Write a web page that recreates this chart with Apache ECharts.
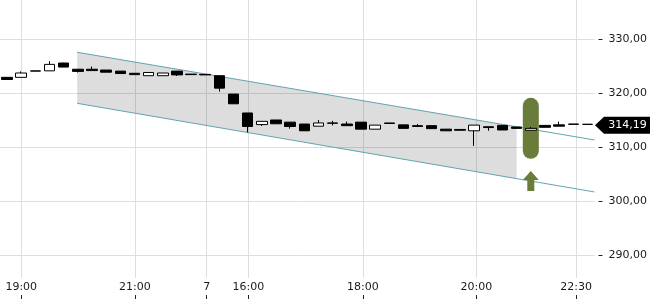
<!DOCTYPE html>
<html><head><meta charset="utf-8">
<script src="https://cdn.jsdelivr.net/npm/echarts@6/dist/echarts.min.js"></script>
<style>html,body{margin:0;padding:0;background:#fff}#c{width:650px;height:300px}</style>
</head><body><div id="c"></div>
<script>
// [open, close, low, high]
const ohlc = [
  [322.9, 322.5, 322.5, 322.95],
  [322.9, 323.7, 322.9, 324.0],
  [324.05, 324.1, 324.05, 324.1],
  [324.1, 325.3, 324.1, 325.9],
  [325.55, 324.8, 324.8, 325.6],
  [324.4, 324.0, 323.8, 324.4],
  [324.4, 324.15, 324.15, 324.9],
  [324.25, 323.85, 323.85, 324.25],
  [324.05, 323.6, 323.6, 324.05],
  [323.65, 323.4, 323.4, 323.65],
  [323.2, 323.8, 323.2, 323.8],
  [323.2, 323.7, 323.2, 323.7],
  [324.05, 323.35, 323.15, 324.05],
  [323.5, 323.4, 323.4, 323.5],
  [323.45, 323.35, 323.35, 323.45],
  [323.2, 320.9, 320.25, 323.2],
  [319.8, 318.0, 318.0, 319.8],
  [316.3, 313.8, 312.7, 316.3],
  [314.15, 314.75, 313.9, 314.8],
  [315.0, 314.3, 314.3, 315.0],
  [314.6, 313.8, 313.4, 314.6],
  [314.25, 313.0, 313.0, 314.25],
  [313.85, 314.45, 313.85, 315.0],
  [314.45, 314.4, 314.0, 314.85],
  [314.25, 313.95, 313.95, 314.7],
  [314.6, 313.3, 313.3, 314.6],
  [313.3, 314.05, 313.3, 314.05],
  [314.45, 314.35, 314.35, 314.45],
  [314.1, 313.45, 313.45, 314.1],
  [313.95, 313.8, 313.8, 314.25],
  [313.95, 313.4, 313.4, 313.95],
  [313.3, 313.0, 313.0, 313.3],
  [313.25, 313.1, 313.1, 313.25],
  [313.0, 314.05, 310.2, 314.05],
  [313.75, 313.6, 313.0, 313.75],
  [314.0, 313.15, 313.15, 314.0],
  [313.7, 313.45, 313.45, 313.7],
  [313.1, 313.45, 313.1, 313.7],
  [314.0, 313.65, 313.65, 314.0],
  [314.1, 313.85, 313.85, 314.7],
  [314.25, 314.2, 314.2, 314.25],
  [314.2, 314.19, 314.19, 314.2]
];
const categories = ohlc.map((d, i) => String(i));
// tick positions in bar-index units (time labels sit slightly off bar centres)
const tickPos = [1.0, 9.03, 14.1, 17.05, 25.13, 33.16, 40.2];
const tickLabels = ['19:00', '21:00', '7', '16:00', '18:00', '20:00', '22:30'];
const yTicks = [290, 300, 310, 320, 330];
const yMin = 285.74, yMax = 337.22;
const channelUpper = [[4.95, 327.54], [41.5, 311.3]];
const channelLower = [[4.95, 318.09], [41.5, 301.67]];
const channelFillEnd = 36;
const signalBar = [[37, 307.8, 319.1]];
const signalArrow = [[37, 301.85, 305.56]];
const lastPrice = 314.19;

function interp(line, x) {
  const [a, b] = line;
  return a[1] + (b[1] - a[1]) * (x - a[0]) / (b[0] - a[0]);
}
const channelFill = [[channelUpper[0][0], channelUpper[0][1], channelLower[0][1], channelFillEnd,
  interp(channelUpper, channelFillEnd), interp(channelLower, channelFillEnd)]];

const fmt = v => v.toFixed(2).replace('.', ',');
function tickLabel(v) {
  let best = 0;
  tickPos.forEach((p, i) => { if (Math.abs(p - v) < Math.abs(tickPos[best] - v)) best = i; });
  return tickLabels[best];
}
const FONT = 'DejaVu Sans';
const GREEN = '#697c3a';
const TEAL = '#62a5ad';

const chart = echarts.init(document.getElementById('c'), null, {renderer: 'canvas'});
chart.setOption({
  animation: false,
  backgroundColor: '#fff',
  textStyle: {fontFamily: FONT},
  grid: {left: 0, right: 55.5, top: 0, bottom: 22, containLabel: false},
  xAxis: [
    {type: 'category', data: categories, show: false, boundaryGap: true},
    {type: 'value', min: -0.5, max: 41.5, position: 'bottom', offset: 0,
      axisLine: {show: false, onZero: false},
      axisTick: {show: false, customValues: tickPos},
      axisLabel: {customValues: tickPos, margin: 4, color: '#1a1a1a', fontSize: 11, fontFamily: FONT, formatter: tickLabel},
      splitLine: {show: true, lineStyle: {color: '#dedede', width: 1}}},
    {type: 'value', min: -0.5, max: 41.5, position: 'bottom', offset: 21,
      axisLine: {show: false, onZero: false},
      axisTick: {show: true, inside: true, length: 4, customValues: tickPos, lineStyle: {color: '#222'}},
      axisLabel: {show: false, customValues: tickPos},
      splitLine: {show: false}}
  ],
  yAxis: [{
    type: 'value', position: 'right', min: yMin, max: yMax, offset: 4, scale: true,
    axisLine: {show: false, onZero: false},
    axisTick: {show: true, length: 4, customValues: yTicks, lineStyle: {color: '#222'}},
    axisLabel: {customValues: yTicks, margin: 10, color: '#1a1a1a', fontSize: 11, fontFamily: FONT, formatter: fmt},
    splitLine: {show: true, lineStyle: {color: '#dedede', width: 1}}
  }],
  series: [
    {type: 'custom', xAxisIndex: 1, yAxisIndex: 0, z: 1, silent: true, data: channelFill,
      renderItem: (params, api) => {
        const a = api.coord([api.value(0), api.value(1)]);
        const b = api.coord([api.value(3), api.value(4)]);
        const c = api.coord([api.value(3), api.value(5)]);
        const d = api.coord([api.value(0), api.value(2)]);
        return {type: 'polygon', shape: {points: [a, b, c, d]}, style: {fill: 'rgba(0,0,0,0.135)'}};
      }},
    {type: 'line', xAxisIndex: 1, yAxisIndex: 0, z: 2, data: channelUpper, symbol: 'none', silent: true,
      lineStyle: {color: TEAL, width: 1}},
    {type: 'line', xAxisIndex: 1, yAxisIndex: 0, z: 2, data: channelLower, symbol: 'none', silent: true,
      lineStyle: {color: TEAL, width: 1}},
    {type: 'custom', xAxisIndex: 1, yAxisIndex: 0, z: 3, silent: true, data: signalBar,
      renderItem: (params, api) => {
        const t = api.coord([api.value(0), api.value(2)]);
        const b = api.coord([api.value(0), api.value(1)]);
        return {type: 'rect', shape: {x: t[0] - 8, y: t[1], width: 16, height: b[1] - t[1], r: 8}, style: {fill: GREEN}};
      }},
    {type: 'custom', xAxisIndex: 1, yAxisIndex: 0, z: 3, silent: true, data: signalArrow,
      renderItem: (params, api) => {
        const t = api.coord([api.value(0), api.value(2)]);
        const b = api.coord([api.value(0), api.value(1)]);
        const x = t[0], hy = t[1] + 9;
        return {type: 'polygon', shape: {points: [[x, t[1]], [x + 8, hy], [x + 3.5, hy], [x + 3.5, b[1]], [x - 3.5, b[1]], [x - 3.5, hy], [x - 8, hy]]},
          style: {fill: GREEN}};
      }},
    {type: 'candlestick', xAxisIndex: 0, yAxisIndex: 0, z: 4, data: ohlc, barWidth: 11, silent: true,
      itemStyle: {color: '#ffffff', color0: '#000000', borderColor: '#000000', borderColor0: '#000000', borderWidth: 1}},
    {type: 'custom', xAxisIndex: 1, yAxisIndex: 0, z: 5, silent: true, clip: false, data: [[41.5, lastPrice]],
      renderItem: (params, api) => {
        const p = api.coord([api.value(0), api.value(1)]);
        const x = p[0] + 0.5, y = p[1] + 1;
        return {type: 'group', children: [
          {type: 'polygon', shape: {points: [[x, y], [x + 9, y - 8.5], [650, y - 8.5], [650, y + 8.5], [x + 9, y + 8.5]]}, style: {fill: '#000'}},
          {type: 'text', style: {x: x + 32.5, y: y, text: fmt(api.value(1)), fill: '#fff', font: '11px "DejaVu Sans"', align: 'center', verticalAlign: 'middle'}}
        ]};
      }}
  ]
});
</script>
</body></html>
